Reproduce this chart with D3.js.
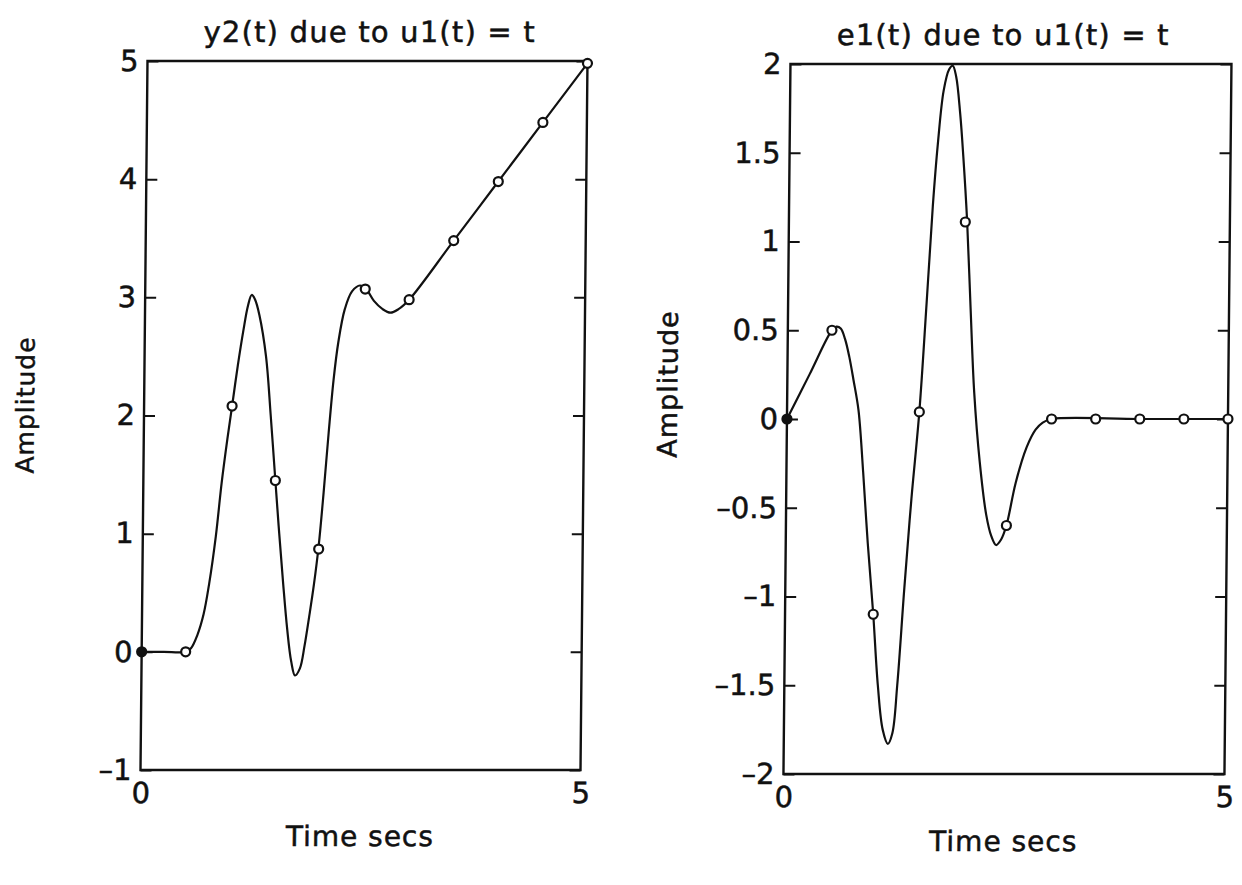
<!DOCTYPE html>
<html>
<head>
<meta charset="utf-8">
<script src="https://cdn.jsdelivr.net/npm/d3@7"></script>
<style>
  body { margin: 0; background: #fff; }
  svg text { font-family: "DejaVu Sans", sans-serif; fill: #111; stroke: #111; stroke-width: 0.5px; }
</style>
</head>
<body>
<div id="chart"></div>
<script>
// y2(t) response
var y2T = [0, 0.25, 0.5, 0.56, 0.63, 0.7, 0.76, 0.83, 0.89, 0.95, 1.0, 1.06, 1.12, 1.17, 1.21, 1.25, 1.3, 1.38, 1.44, 1.5,
    1.55, 1.6, 1.65, 1.7, 1.745, 1.8, 1.85, 1.9, 1.95, 2.0, 2.05, 2.1, 2.15, 2.2, 2.27, 2.35, 2.44, 2.52, 2.6, 2.7,
    2.79, 2.88, 3.0, 3.5, 4.0, 4.5, 5.0];
var y2Val = [0, 0, 0, 0.03, 0.14, 0.32, 0.58, 0.98, 1.43, 1.8, 2.08, 2.42, 2.72, 2.93, 3.02, 2.98, 2.85, 2.5, 2.0, 1.45,
    1.0, 0.58, 0.2, -0.08, -0.2, -0.14, 0.05, 0.3, 0.57, 0.9, 1.35, 1.85, 2.3, 2.62, 2.9, 3.05, 3.1, 3.06, 2.97, 2.9,
    2.87, 2.9, 2.98, 3.48, 3.98, 4.48, 4.98];

// e1(t) response
var e1T = [0, 0.25, 0.5, 0.55, 0.6, 0.65, 0.7, 0.75, 0.81, 0.87, 0.93, 1.0, 1.06, 1.12, 1.18, 1.23, 1.28, 1.35, 1.42, 1.5,
    1.57, 1.63, 1.68, 1.74, 1.8, 1.84, 1.88, 1.93, 1.97, 2.02, 2.07, 2.12, 2.19, 2.27, 2.33, 2.385, 2.44, 2.5, 2.6,
    2.72, 2.82, 2.9, 3.0, 4.0, 5.0];
var e1Val = [0, 0.25, 0.5, 0.52, 0.51, 0.45, 0.35, 0.22, 0.05, -0.3, -0.7, -1.1, -1.5, -1.75, -1.83, -1.77, -1.5, -0.95,
    -0.45, 0.04, 0.65, 1.2, 1.55, 1.85, 1.97, 1.99, 1.93, 1.72, 1.48, 1.12, 0.62, 0.15, -0.24, -0.54, -0.66, -0.71,
    -0.68, -0.6, -0.36, -0.16, -0.06, -0.02, 0, 0, 0];

// circle markers every 0.5 s
var markT = [0, 0.5, 1, 1.5, 2, 2.5, 3, 3.5, 4, 4.5, 5];
var y2Marks = [0, 0, 2.08, 1.45, 0.87, 3.07, 2.98, 3.48, 3.98, 4.48, 4.98];
var e1Marks = [0, 0.5, -1.1, 0.04, 1.11, -0.6, 0, 0, 0, 0, 0];

// axis ticks
var xTicks = [0, 5];
var y2Ticks = [-1, 0, 1, 2, 3, 4, 5];
var e1Ticks = [-2, -1.5, -1, -0.5, 0, 0.5, 1, 1.5, 2];

var W = 1242, H = 885;

var svg = d3.select("#chart")
    .append("svg")
    .attr("width", W)
    .attr("height", H);

// the scan is a little skewed
var page = svg.append("g")
    .attr("transform", "translate(0,415) skewX(-0.565) translate(0,-415)");

// old plotter prints a short dash for minus
var fmt = function (d) { return String(d).replace("-", "\u2013"); };

function drawPanel(p) {
    var x = d3.scaleLinear().domain([0, 5]).range([p.left, p.right]);
    var y = d3.scaleLinear().domain(p.yDomain).range([p.bottom, p.top]);
    var g = page.append("g");

    // left ticks with labels, pointing inward
    var ya = g.append("g")
        .attr("transform", "translate(" + p.left + ",0)")
        .call(d3.axisLeft(y).tickValues(p.yTicks).tickSize(-11).tickPadding(9).tickFormat(fmt));
    // right ticks, no labels
    var yb = g.append("g")
        .attr("transform", "translate(" + p.right + ",0)")
        .call(d3.axisRight(y).tickValues(p.yTicks).tickSize(-11).tickFormat(""));
    var xa = g.append("g")
        .attr("transform", "translate(0," + p.bottom + ")")
        .call(d3.axisBottom(x).tickValues(xTicks).tickSize(0).tickPadding(12).tickFormat(fmt));

    [ya, yb, xa].forEach(function (a) {
        a.select(".domain").remove();
        a.selectAll("line").attr("stroke", "#111").attr("stroke-width", 2);
        a.selectAll("text").style("font-size", "29px").attr("fill", "#111");
    });

    // frame
    g.append("rect")
        .attr("x", p.left).attr("y", p.top)
        .attr("width", p.right - p.left).attr("height", p.bottom - p.top)
        .attr("fill", "none").attr("stroke", "#111").attr("stroke-width", 2.4);

    // curve
    var pts = p.t.map(function (t, i) { return [t, p.v[i]]; });
    g.append("path")
        .datum(pts)
        .attr("fill", "none")
        .attr("stroke", "#111")
        .attr("stroke-width", 2.2)
        .attr("d", d3.line()
            .x(function (d) { return x(d[0]); })
            .y(function (d) { return y(d[1]); })
            .curve(d3.curveCatmullRom.alpha(0.5)));

    // markers
    g.selectAll("circle.mk")
        .data(markT.map(function (t, i) { return [t, p.marks[i]]; }))
        .enter()
        .append("circle")
        .attr("class", "mk")
        .attr("cx", function (d) { return x(d[0]); })
        .attr("cy", function (d) { return y(d[1]); })
        .attr("r", 4.5)
        .attr("fill", function (d) { return d[0] === 0 ? "#111" : "#fff"; })
        .attr("stroke", "#111")
        .attr("stroke-width", 2.2);

    // title
    g.append("text")
        .attr("x", (p.left + p.right) / 2 + p.titleDx)
        .attr("y", p.top - 19)
        .attr("text-anchor", "middle")
        .style("font-size", "29px")
        .style("letter-spacing", "1.2px")
        .text(p.title);

    // x label
    g.append("text")
        .attr("x", (p.left + p.right) / 2)
        .attr("y", p.bottom + p.xlabDy)
        .attr("text-anchor", "middle")
        .style("font-size", "28px")
        .style("letter-spacing", "1px")
        .text("Time secs");

    // y label
    g.append("text")
        .attr("transform", "translate(" + p.ylabX + "," + p.ylabY + ") rotate(-90)")
        .attr("text-anchor", "middle")
        .style("font-size", p.ylabSize + "px")
        .style("letter-spacing", "1px")
        .text("Amplitude");
}

drawPanel({
    left: 144, right: 584, top: 61, bottom: 770,
    yDomain: [-1, 5], yTicks: y2Ticks,
    t: y2T, v: y2Val, marks: y2Marks,
    title: "y2(t) due to u1(t) = t", titleDx: 2,
    xlabDy: 76,
    ylabX: 34, ylabY: 405, ylabSize: 25
});

drawPanel({
    left: 787, right: 1228, top: 64, bottom: 774,
    yDomain: [-2, 2], yTicks: e1Ticks,
    t: e1T, v: e1Val, marks: e1Marks,
    title: "e1(t) due to u1(t) = t", titleDx: -8,
    xlabDy: 77,
    ylabX: 677, ylabY: 384, ylabSize: 27
});
</script>
</body>
</html>
